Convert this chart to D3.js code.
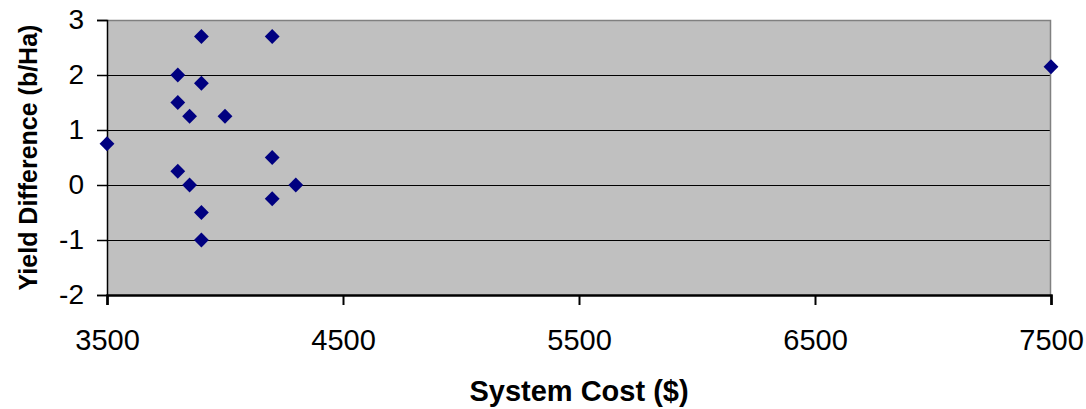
<!DOCTYPE html>
<html>
<head>
<meta charset="utf-8">
<script src="https://cdn.jsdelivr.net/npm/d3@7"></script>
<style>
  body { margin: 0; background: #fff; }
  svg { display: block; font-family: "Liberation Sans", Arial, sans-serif; }
</style>
</head>
<body>
<div id="chart"></div>
<script>
// data
const systemCost = [3500, 3800, 3900, 4200, 3900, 3800, 3850, 4000, 3800, 3850, 3900, 3900, 4200, 4200, 4300, 7500];
const yieldDiff  = [0.75, 2.0, 2.7, 2.7, 1.85, 1.5, 1.25, 1.25, 0.25, 0.0, -0.5, -1.0, 0.5, -0.25, 0.0, 2.15];
const xTicks = [3500, 4500, 5500, 6500, 7500];
const yTicks = [-2, -1, 0, 1, 2, 3];

const W = 1086, H = 409;
const margin = {top: 20, right: 35, bottom: 114, left: 107};
const width = W - margin.left - margin.right;
const height = H - margin.top - margin.bottom;

const svg = d3.select("#chart")
    .append("svg")
    .attr("width", W)
    .attr("height", H);

const g = svg.append("g")
    .attr("transform", `translate(${margin.left},${margin.top})`);

const x = d3.scaleLinear().domain([3500, 7500]).range([0, width]);
const y = d3.scaleLinear().domain([-2, 3]).range([height, 0]);

// plot background
g.append("rect")
    .attr("width", width)
    .attr("height", height)
    .attr("fill", "#c0c0c0");

// horizontal grid lines
g.selectAll("line.grid")
    .data(yTicks.filter(d => d > -2 && d < 3))
    .enter()
    .append("line")
    .attr("class", "grid")
    .attr("x1", 0)
    .attr("x2", width)
    .attr("y1", d => Math.round(y(d)) + 0.5)
    .attr("y2", d => Math.round(y(d)) + 0.5)
    .attr("stroke", "#000")
    .attr("stroke-width", 1);

// grey frame top and right
g.append("path")
    .attr("d", `M0,0.5H${width - 0.5}V${height}`)
    .attr("fill", "none")
    .attr("stroke", "#808080")
    .attr("stroke-width", 1.5);

// y axis
const yAxis = g.append("g")
    .call(d3.axisLeft(y).tickValues(yTicks).tickSize(10).tickPadding(13).tickFormat(d => String(d)));
yAxis.select(".domain").attr("stroke", "#000").attr("stroke-width", 1.5);
yAxis.selectAll(".tick line").attr("stroke", "#000").attr("stroke-width", 1.5);
yAxis.selectAll("text")
    .attr("fill", "#000")
    .attr("font-size", 28)
    .attr("font-family", "Liberation Sans, Arial, sans-serif");

// x axis
const xAxis = g.append("g")
    .attr("transform", `translate(0,${height})`)
    .call(d3.axisBottom(x).tickValues(xTicks).tickSize(10).tickPadding(24).tickFormat(d => String(d)));
xAxis.select(".domain").attr("stroke", "#000").attr("stroke-width", 2.5);
xAxis.selectAll(".tick line").attr("stroke", "#000").attr("stroke-width", 2);
xAxis.selectAll("text")
    .attr("fill", "#000")
    .attr("font-size", 29)
    .attr("font-family", "Liberation Sans, Arial, sans-serif");

// axis titles
g.append("text")
    .attr("x", width / 2)
    .attr("y", height + 106)
    .attr("text-anchor", "middle")
    .attr("font-size", 29)
    .attr("font-weight", "bold")
    .text("System Cost ($)");

g.append("text")
    .attr("transform", `translate(${37 - margin.left},${height / 2}) rotate(-90)`)
    .attr("text-anchor", "middle")
    .attr("font-size", 25)
    .attr("font-weight", "bold")
    .text("Yield Difference (b/Ha)");

// diamond markers
const diamond = d3.symbol().type(d3.symbolDiamond2).size(140);
g.selectAll("path.pt")
    .data(d3.zip(systemCost, yieldDiff))
    .enter()
    .append("path")
    .attr("class", "pt")
    .attr("transform", d => `translate(${x(d[0])},${y(d[1])})`)
    .attr("d", diamond)
    .attr("fill", "#000080");
</script>
</body>
</html>
